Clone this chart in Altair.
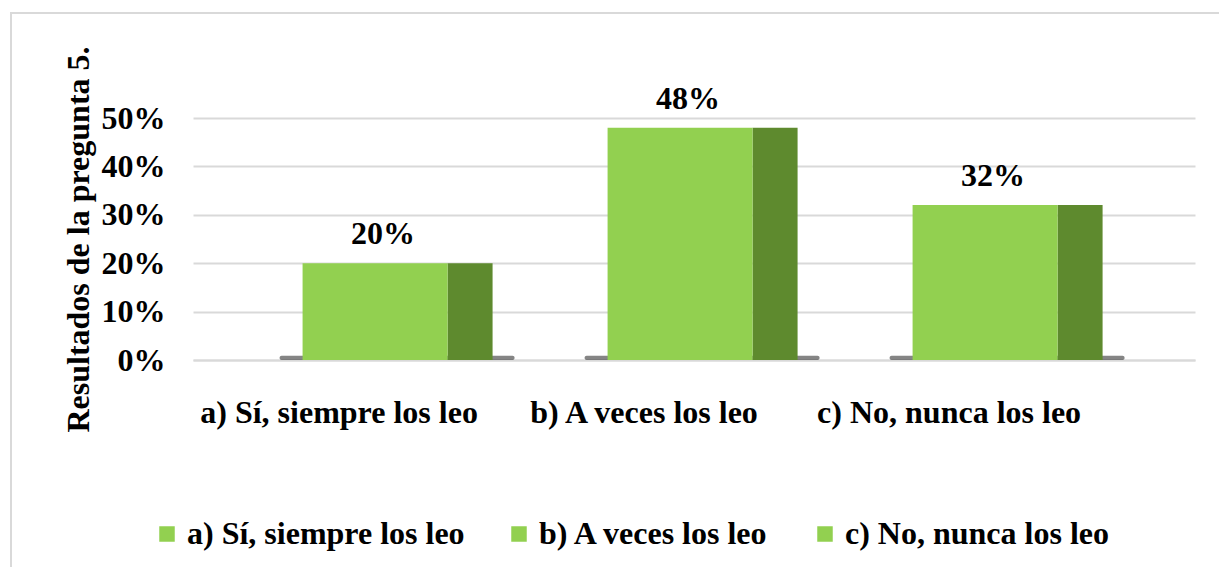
import altair as alt
import pandas as pd

categories = ["a) Sí, siempre los leo", "b) A veces los leo", "c) No, nunca los leo"]
values = [0.20, 0.48, 0.32]
y_ticks = [0, 0.1, 0.2, 0.3, 0.4, 0.5]

FRONT = "#92D050"
SIDE = "#5E8A2E"
GRID = "#D9D9D9"
FONT = "Liberation Serif, Times New Roman, serif"
FS = 32

df = pd.DataFrame({"cat": categories, "val": values})

xscale = alt.Scale(domain=categories, paddingInner=0, paddingOuter=0.1426, align=0.34)
yscale = alt.Scale(domain=[0, 0.5], nice=False)

x_enc = alt.X("cat:N", scale=xscale, sort=categories,
              axis=alt.Axis(title=None, labelAngle=0, ticks=False, domain=True, grid=False,
                            domainColor=GRID, domainWidth=2,
                            labelFont=FONT, labelFontSize=FS, labelFontWeight="bold",
                            labelColor="black", labelPadding=37, labelBaseline="top",
                            labelOffset=-36, labelLimit=400))
y_enc = alt.Y("val:Q", scale=yscale,
              axis=alt.Axis(title="Resultados de la pregunta 5.", values=y_ticks, format=".0%",
                            grid=True, gridColor=GRID, gridWidth=2, ticks=False, domain=False,
                            labelFont=FONT, labelFontSize=FS, labelFontWeight="bold",
                            labelColor="black", labelPadding=28,
                            titleFont=FONT, titleFontSize=FS, titleFontWeight="bold",
                            titleColor="black", titlePadding=6))

base = alt.Chart(df)

frame = base.mark_rect(fill=None, stroke=GRID, strokeWidth=2).encode(
    x=alt.value(-182), x2=alt.value(1040), y=alt.value(-105), y2=alt.value(470)
).transform_filter(alt.datum.cat == categories[0])

shadow = base.mark_bar(width=235, xOffset=22, color="#333333", opacity=0.6,
                       cornerRadius=2).encode(
    x=x_enc, y=alt.datum(0, scale=yscale), y2=alt.datum(0.009)
)

side = base.mark_bar(width=45, xOffset=95, color=SIDE).encode(x=x_enc, y=y_enc)

front = base.mark_bar(width=145, xOffset=0).encode(
    x=x_enc, y=y_enc,
    color=alt.Color("cat:N", sort=categories,
                    scale=alt.Scale(domain=categories, range=[FRONT, FRONT, FRONT]),
                    legend=alt.Legend(title=None, orient="none", legendX=-42, legendY=400,
                                      direction="horizontal", columns=3,
                                      symbolType="square", symbolSize=240,
                                      symbolStrokeWidth=0, columnPadding=38,
                                      labelFont=FONT, labelFontSize=FS,
                                      labelFontWeight="bold", labelColor="black",
                                      labelLimit=400, labelOffset=4))
)

labels = base.mark_text(font=FONT, fontSize=FS, fontWeight="bold", color="black",
                        baseline="bottom", dy=-12, dx=8).encode(
    x=x_enc, y=y_enc, text=alt.Text("val:Q", format=".0%")
)

chart = alt.layer(frame, shadow, side, front, labels).properties(
    width=1002, height=242,
    background="white",
    autosize=alt.AutoSizeParams(type="none"),
    padding={"left": 185, "top": 110, "right": 24, "bottom": 207},
).configure_view(stroke="transparent", strokeWidth=0)

chart.save("out.html", embed_options={"renderer": "svg", "actions": False})
